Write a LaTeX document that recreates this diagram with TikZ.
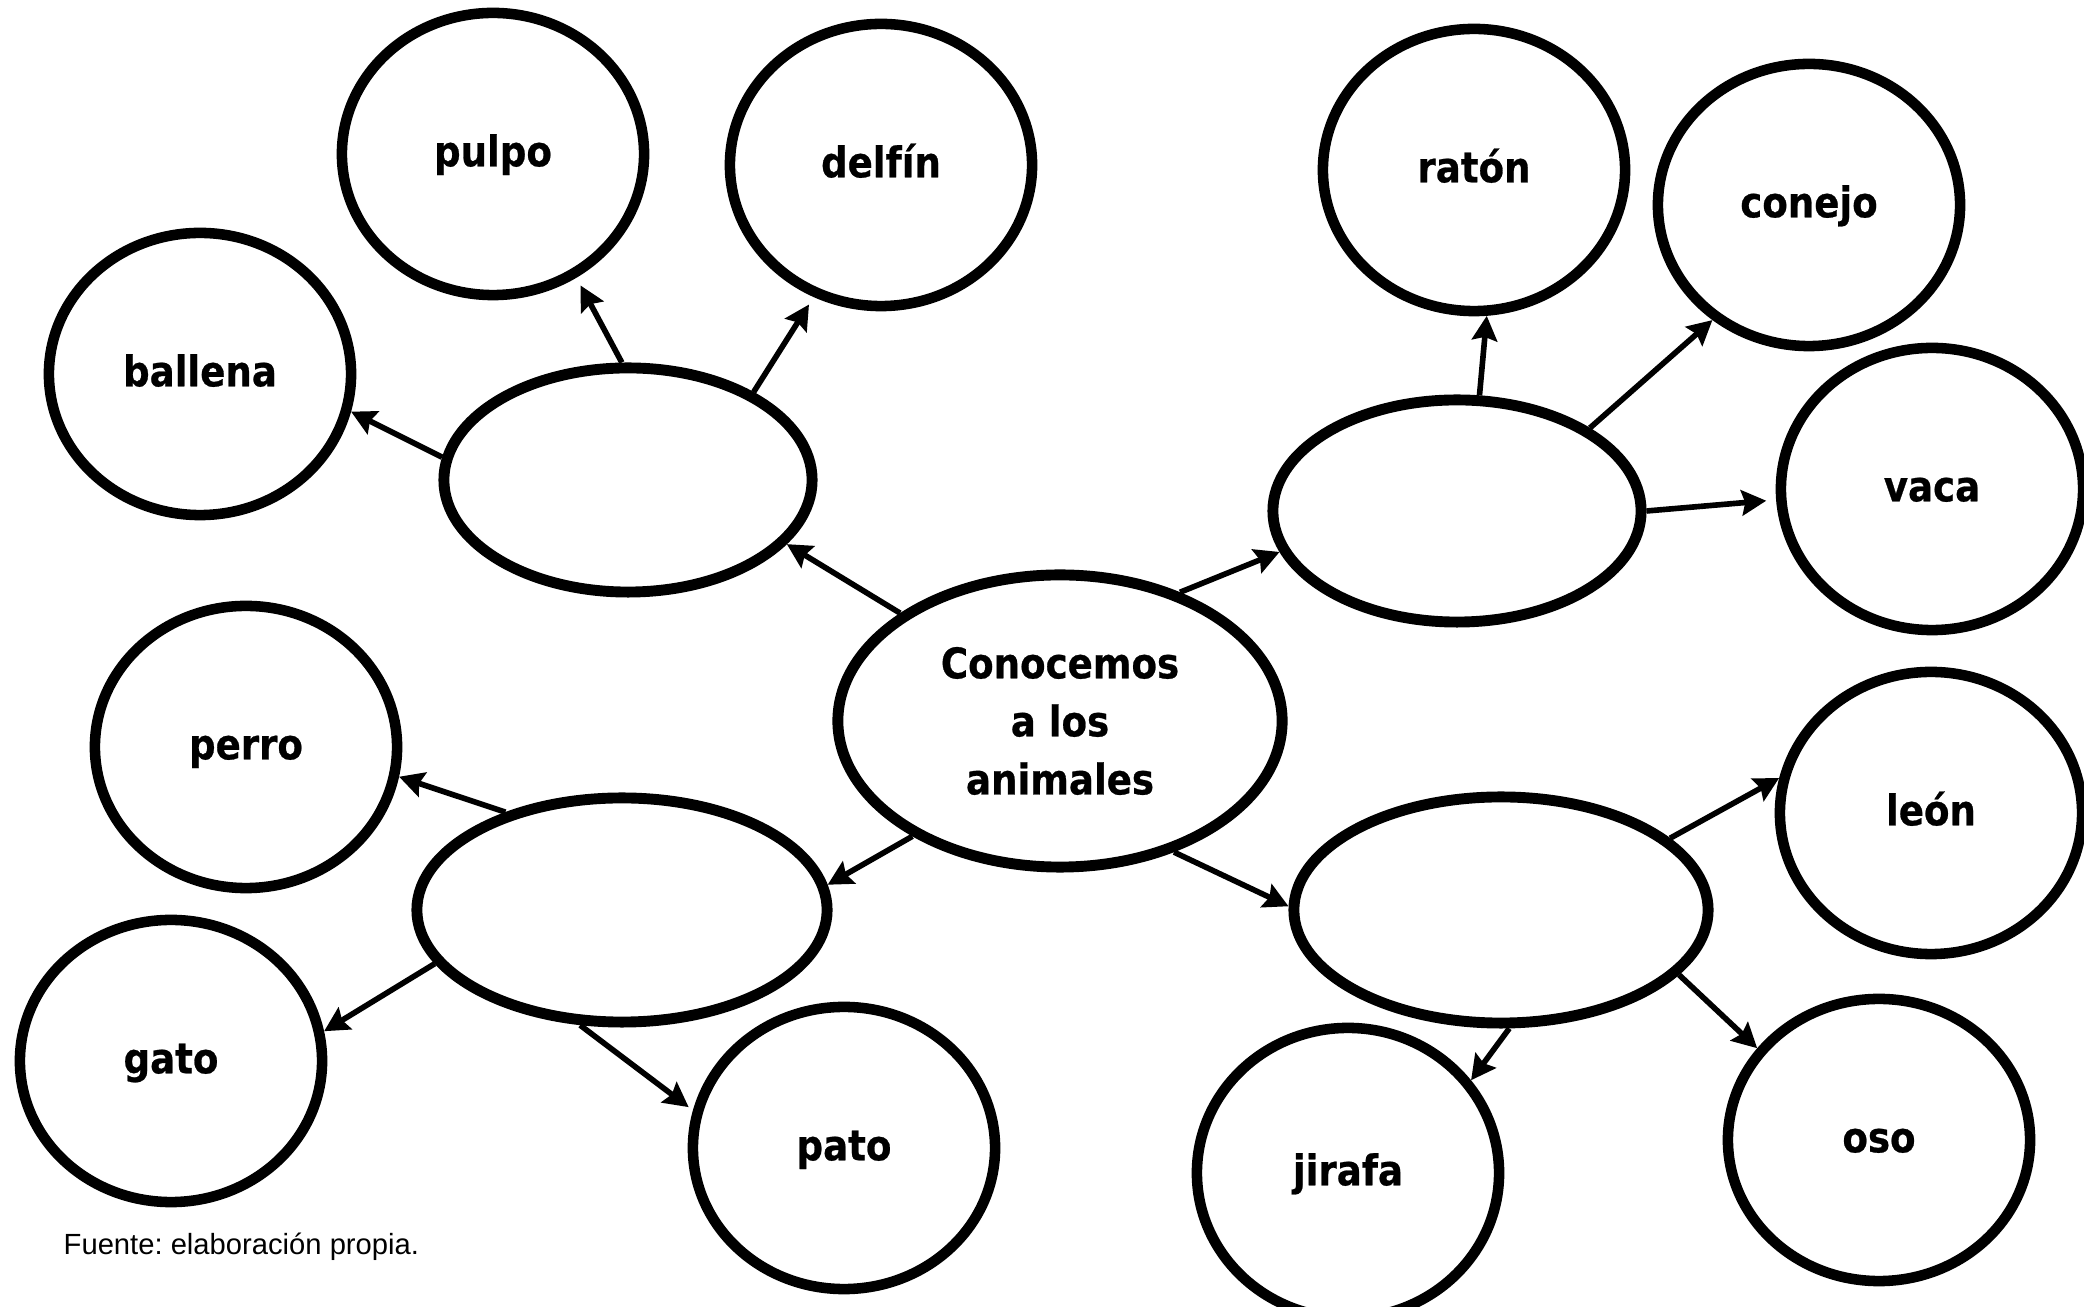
\documentclass[tikz,border=0pt]{standalone}
\usepackage{fontspec}
\newfontfamily\labfont{DejaVu Sans}[FakeStretch=0.88, BoldFeatures={FakeBold=0.6}]
\newfontfamily\capfont{Liberation Sans}
\usetikzlibrary{shapes.geometric,arrows.meta}
\frenchspacing
\begin{document}
\begin{tikzpicture}[x=0.01cm,y=-0.01cm,
  lab/.style={font=\labfont\bfseries\fontsize{12}{16.5}\selectfont},
  bubble/.style={ellipse, draw, line width=3pt, inner sep=0pt,
    minimum width=3.02cm, minimum height=2.82cm, lab,
    text height=9pt, text depth=2pt},
  hub/.style={ellipse, draw, line width=3.1pt, inner sep=0pt, lab, align=center},
  link/.style={line width=1.6pt, -{Stealth[length=7pt,width=7.2pt,inset=1pt]}}
]
\useasboundingbox (0,0) rectangle (2084,1307);

% hubs
\node[hub, minimum width=4.44cm, minimum height=2.92cm] (C) at (1060,721) {Conocemos\\a los\\animales};
\node[hub, minimum width=3.68cm, minimum height=2.24cm] (TL) at (628,480) {};
\node[hub, minimum width=3.68cm, minimum height=2.22cm] (TR) at (1457,511) {};
\node[hub, minimum width=4.10cm, minimum height=2.24cm] (BL) at (622,910) {};
\node[hub, minimum width=4.14cm, minimum height=2.26cm] (BR) at (1501,910) {};

% animals
\node[bubble] (pulpo)   at (493,154)  {pulpo};
\node[bubble] (delfin)  at (881,165)  {delfín};
\node[bubble] (ballena) at (200,374)  {ballena};
\node[bubble] (raton)   at (1474,170) {ratón};
\node[bubble] (conejo)  at (1809,205) {conejo};
\node[bubble] (vaca)    at (1932,489) {vaca};
\node[bubble] (perro)   at (246,747)  {perro};
\node[bubble] (gato)    at (171,1061) {gato};
\node[bubble] (pato)    at (844,1148) {pato};
\node[bubble, minimum height=2.90cm] (jirafa) at (1348,1173) {jirafa};
\node[bubble] (oso)     at (1879,1140) {oso};
\node[bubble] (leon)    at (1931,813)  {león};

% connectors
\draw[link] (C.146.5) -- (TL.-22);
\draw[link] (C.47) -- (TR.193);
\draw[link] (C.218) -- (BL.7);
\draw[link] (C.-49) -- (BR.179);
\draw[link] (TL.173) -- (ballena.-14);
\draw[link, shorten >=2.5pt] (TL.93) -- (pulpo.-56);
\draw[link, shorten >=2.5pt] (TL.35) -- (delfin.243);
\draw[link] (TR.79) -- (raton.-85);
\draw[link] (TR.32) -- (conejo.230);
\draw[link, shorten >=2.8pt] (TR.0) -- (vaca.184);
\draw[link] (BL.140) -- (perro.-11);
\draw[link] (BL.196) -- (gato.11);
\draw[link, shorten >=1.5pt] (BL.250) -- (pato.166);
\draw[link] (BR.23) -- (leon.167);
\draw[link] (BR.-20) -- (oso.143);
\draw[link] (BR.-86) -- (jirafa.37);

% source
\node[anchor=base west, inner sep=0pt, font=\capfont\fontsize{8.3}{10}\selectfont] (src) at (63,1255) {Fuente: elaboración propia.};
\end{tikzpicture}
\end{document}
